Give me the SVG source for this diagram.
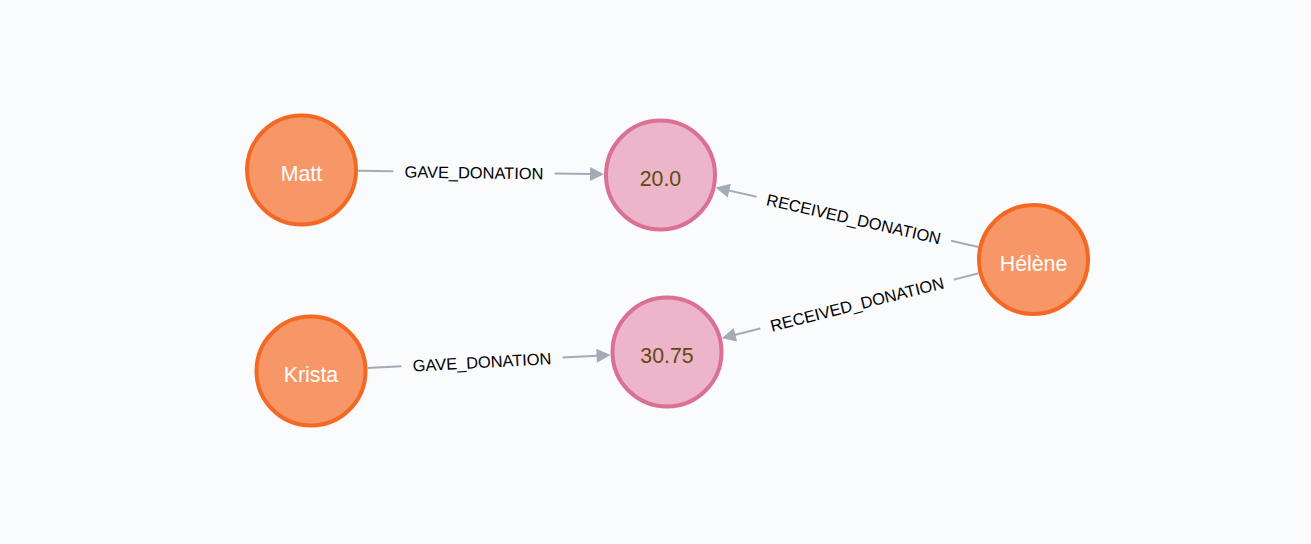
<svg xmlns="http://www.w3.org/2000/svg" width="1311" height="544" viewBox="0 0 1311 544">
  <style>
    .bg { fill: #F9FBFD; }
    .person circle { fill: #F79767; stroke: #F36924; stroke-width: 4; }
    .amount circle { fill: #ECB5C9; stroke: #DA7194; stroke-width: 4; }
    .person text { fill: #FFFFFF; }
    .amount text { fill: #604A0E; }
    .node text { font-family: "Liberation Sans", Arial, sans-serif; font-size: 21.3px; text-anchor: middle; }
    .edge line { stroke: #A5ABB6; stroke-width: 2; }
    .edge path { fill: #A5ABB6; }
    .edge text { font-family: "Liberation Sans", Arial, sans-serif; font-size: 16.4px; fill: #000000; text-anchor: middle; }
  </style>
  <rect class="bg" x="0" y="0" width="1311" height="544"/>

  <g id="connectors">
    <g id="e-matt-20" class="edge" transform="translate(357.99 170.79) rotate(0.798)">
      <line x1="0" y1="0" x2="35.4" y2="0"/>
      <line x1="196.6" y1="0" x2="233" y2="0"/>
      <path d="M232.03,-7 L246.03,0 L232.03,7 Z"/>
      <text x="116.02" y="6">GAVE_DONATION</text>
    </g>
    <g id="e-krista-3075" class="edge" transform="translate(367.42 367.99) rotate(-3.055)">
      <line x1="0" y1="0" x2="34.15" y2="0"/>
      <line x1="195.35" y1="0" x2="230.5" y2="0"/>
      <path d="M229.51,-7 L243.51,0 L229.51,7 Z"/>
      <text x="114.75" y="6">GAVE_DONATION</text>
    </g>
    <g id="e-helene-20" class="edge" transform="translate(978.40 247.02) rotate(-167.236)">
      <line x1="0" y1="0" x2="27.97" y2="0"/>
      <line x1="227.49" y1="0" x2="256.45" y2="0"/>
      <path d="M255.45,-7 L269.45,0 L255.45,7 Z"/>
      <text x="127.73" y="6" transform="rotate(180 127.73 0)">RECEIVED_DONATION</text>
    </g>
    <g id="e-helene-3075" class="edge" transform="translate(978.72 273.33) rotate(165.835)">
      <line x1="0" y1="0" x2="25.74" y2="0"/>
      <line x1="225.26" y1="0" x2="252" y2="0"/>
      <path d="M250.99,-7 L264.99,0 L250.99,7 Z"/>
      <text x="125.5" y="6" transform="rotate(180 125.5 0)">RECEIVED_DONATION</text>
    </g>
  </g>

  <g id="n-matt" class="node person">
    <circle cx="301.5" cy="170" r="54.5"/>
    <text x="301.5" y="181">Matt</text>
  </g>
  <g id="n-20" class="node amount">
    <circle cx="660.5" cy="175" r="54.5"/>
    <text x="660.5" y="186">20.0</text>
  </g>
  <g id="n-helene" class="node person">
    <circle cx="1033.5" cy="259.5" r="54.5"/>
    <text x="1033.5" y="271">Hélène</text>
  </g>
  <g id="n-krista" class="node person">
    <circle cx="311" cy="371" r="54.5"/>
    <text x="311" y="382">Krista</text>
  </g>
  <g id="n-3075" class="node amount">
    <circle cx="667" cy="352" r="54.5"/>
    <text x="667" y="362.5">30.75</text>
  </g>
</svg>
